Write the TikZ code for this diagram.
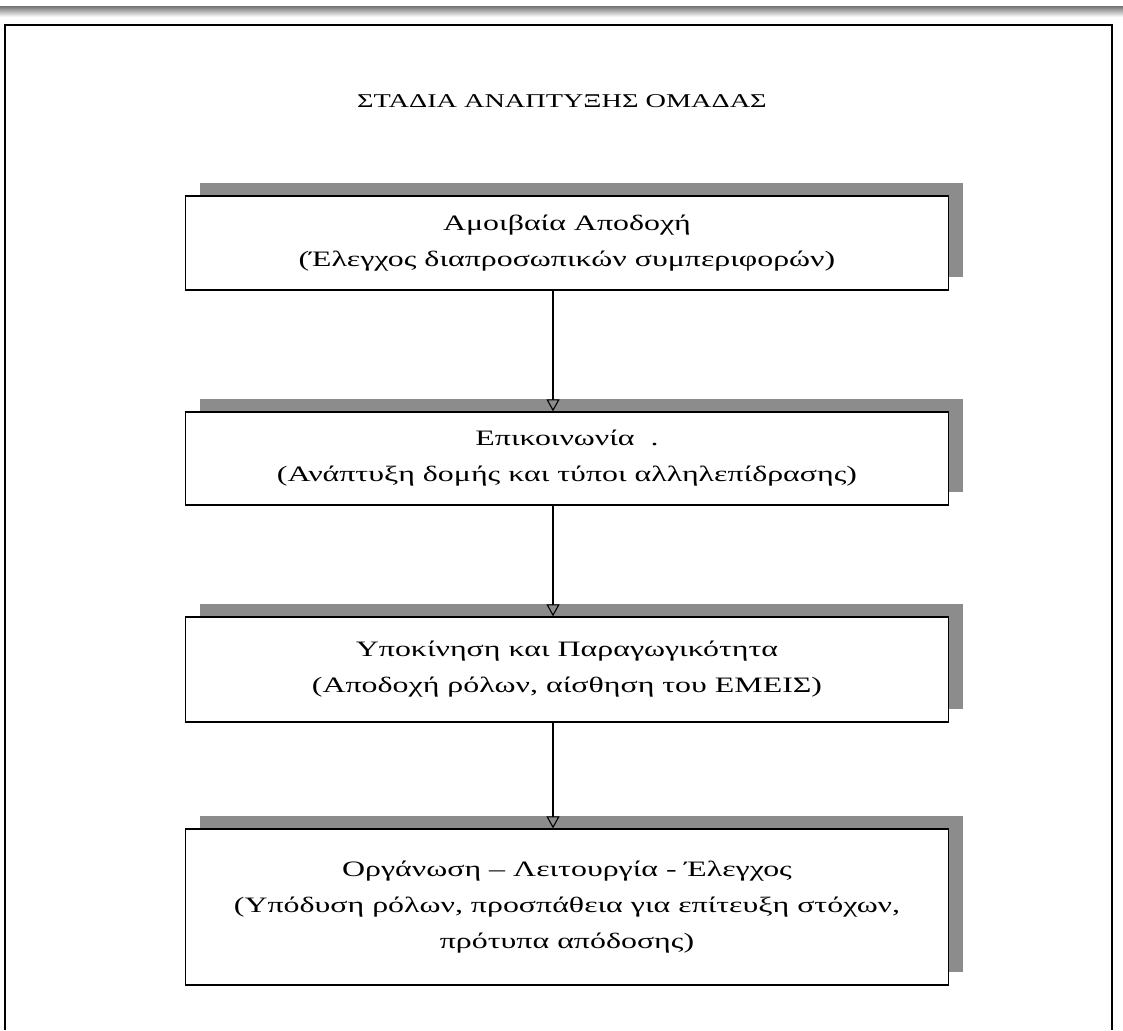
\documentclass[tikz,border=0pt]{standalone}
\usepackage{fontspec}
\setmainfont{Liberation Serif}[FakeStretch=1.45]
\usetikzlibrary{arrows.meta,shadows}
\definecolor{shade}{gray}{0.55}
\tikzset{
  stagebox/.style={draw=black, line width=1.3pt, fill=white, minimum width=763pt,
    align=center, inner sep=0pt, font=\fontsize{22}{36}\selectfont,
    drop shadow={shadow xshift=14pt, shadow yshift=13pt, fill=shade, opacity=1}},
  flow/.style={draw=black, line width=1.1pt,
    -{Triangle[open, width=13pt, length=12pt, line width=1.1pt]}},
  frame/.style={draw=black, line width=1.5pt},
  title/.style={font=\fontsize{19.5}{24}\selectfont, inner sep=0pt}
}
\begin{document}
\begin{tikzpicture}[x=1pt,y=-1pt]
\useasboundingbox (0,0) rectangle (1123,1030);
\fill[shade] (0,7) rectangle (1123,17);
\draw[frame] (5,1030) -- (5,25) -- (1112,25) -- (1112,1030);
\node[title, anchor=base west] (t) at (357,108) {ΣΤΑΔΙΑ ΑΝΑΠΤΥΞΗΣ ΟΜΑΔΑΣ};
\node[stagebox, minimum height=94pt] (b1) at (567,243)
  {Αμοιβαία Αποδοχή\\(Έλεγχος διαπροσωπικών συμπεριφορών)};
\node[stagebox, minimum height=93pt] (b2) at (567,458.5)
  {Επικοινωνία \ .\\(Ανάπτυξη δομής και τύποι αλληλεπίδρασης)};
\node[stagebox, minimum height=105pt] (b3) at (567,669.5)
  {Υποκίνηση και Παραγωγικότητα\\(Αποδοχή ρόλων, αίσθηση του ΕΜΕΙΣ)};
\node[stagebox, minimum height=156pt] (b4) at (567,907)
  {Οργάνωση – Λειτουργία - Έλεγχος\\(Υπόδυση ρόλων, προσπάθεια για επίτευξη στόχων,\\πρότυπα απόδοσης)};
\coordinate (ax) at (553,0);
\draw[flow] (b1.south -| ax) -- (b2.north -| ax);
\draw[flow] (b2.south -| ax) -- (b3.north -| ax);
\draw[flow] (b3.south -| ax) -- (b4.north -| ax);
\end{tikzpicture}
\end{document}
